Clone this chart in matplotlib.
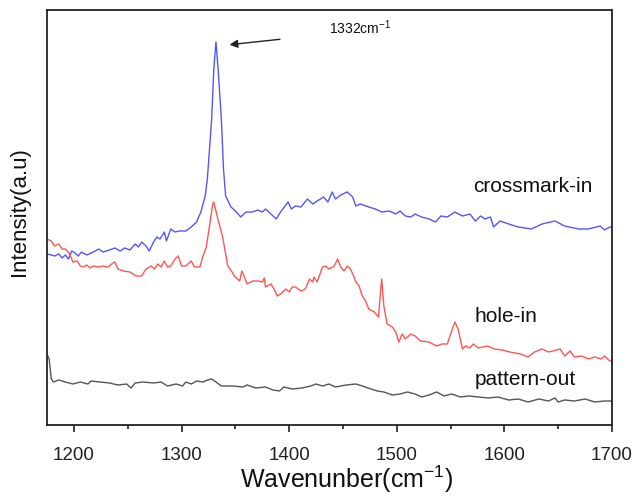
import matplotlib
matplotlib.use("Agg")
import matplotlib.pyplot as plt
from matplotlib.ticker import MultipleLocator

plt.rcParams['font.family'] = ['Liberation Sans', 'DejaVu Sans']
plt.rcParams['mathtext.fontset'] = 'custom'
plt.rcParams['mathtext.rm'] = 'Liberation Sans'
plt.rcParams['mathtext.it'] = 'Liberation Sans:italic'
plt.rcParams['mathtext.bf'] = 'Liberation Sans:bold'

# Wavenumbers (cm^-1) and intensities (a.u.)
blue_x = [1175, 1179, 1182, 1186, 1189, 1192, 1195, 1198, 1201, 1204, 1207, 1212,
          1218, 1223, 1227, 1233, 1238, 1243, 1247, 1252, 1257, 1260, 1263, 1267,
          1270, 1274, 1277, 1280, 1284, 1286, 1290, 1294, 1298, 1304, 1309, 1314,
          1318, 1322, 1324, 1328, 1330, 1332, 1334, 1337, 1339, 1341, 1346, 1351,
          1355, 1360, 1366, 1371, 1375, 1378, 1383, 1388, 1392, 1399, 1402, 1406,
          1411, 1417, 1422, 1426, 1432, 1436, 1440, 1443, 1448, 1454, 1459, 1462,
          1466, 1474, 1480, 1486, 1493, 1499, 1503, 1508, 1513, 1517, 1523, 1530,
          1536, 1541, 1547, 1554, 1561, 1568, 1573, 1578, 1582, 1587, 1590, 1596,
          1604, 1613, 1625, 1635, 1647, 1656, 1669, 1678, 1689, 1693, 1698, 1700]
blue_y = [171, 170, 169, 171, 167, 170, 166, 174, 172, 169, 173, 170,
          173, 176, 173, 175, 177, 174, 177, 175, 181, 178, 183, 179,
          174, 183, 188, 186, 193, 184, 196, 193, 194, 194, 198, 203,
          213, 229, 246, 306, 356, 383, 356, 306, 256, 229, 218, 213,
          208, 213, 213, 215, 213, 216, 211, 206, 213, 223, 216, 219,
          218, 226, 221, 224, 228, 223, 233, 226, 230, 233, 228, 219,
          221, 218, 216, 213, 214, 211, 214, 209, 208, 211, 208, 206,
          203, 209, 208, 213, 209, 211, 204, 209, 206, 208, 198, 204,
          201, 198, 196, 201, 204, 199, 196, 196, 199, 195, 198, 198]

red_x = [1175, 1179, 1182, 1186, 1189, 1192, 1195, 1198, 1199, 1203, 1206, 1209,
         1212, 1215, 1218, 1223, 1227, 1232, 1235, 1238, 1241, 1246, 1252, 1258,
         1263, 1267, 1272, 1275, 1278, 1281, 1284, 1287, 1290, 1294, 1297, 1300,
         1304, 1309, 1312, 1317, 1320, 1323, 1326, 1329, 1330, 1334, 1338, 1343,
         1347, 1349, 1354, 1356, 1358, 1361, 1366, 1371, 1375, 1377, 1378, 1383,
         1386, 1389, 1392, 1397, 1400, 1403, 1406, 1411, 1415, 1419, 1422, 1423,
         1426, 1431, 1434, 1437, 1442, 1445, 1448, 1451, 1454, 1457, 1460, 1462,
         1465, 1468, 1471, 1474, 1479, 1483, 1486, 1488, 1491, 1496, 1499, 1502,
         1505, 1508, 1513, 1517, 1522, 1530, 1537, 1542, 1547, 1551, 1554, 1557,
         1561, 1564, 1568, 1571, 1576, 1584, 1591, 1598, 1605, 1615, 1622, 1628,
         1635, 1641, 1645, 1652, 1656, 1661, 1665, 1672, 1678, 1684, 1690, 1693,
         1698, 1700]
red_y = [186, 184, 179, 181, 176, 176, 173, 166, 163, 164, 159, 158,
         160, 157, 159, 158, 159, 158, 161, 163, 156, 154, 153, 149,
         149, 156, 159, 156, 161, 158, 164, 158, 159, 166, 169, 159,
         159, 164, 158, 158, 169, 178, 199, 221, 223, 205, 189, 159,
         153, 149, 144, 154, 149, 141, 144, 144, 143, 147, 138, 141,
         136, 129, 131, 136, 133, 138, 138, 134, 136, 146, 143, 148,
         143, 158, 159, 156, 159, 166, 158, 154, 159, 156, 149, 143,
         139, 129, 124, 116, 113, 108, 146, 119, 101, 98, 93, 83,
         91, 86, 91, 89, 84, 83, 79, 81, 81, 94, 103, 96,
         76, 79, 77, 81, 77, 79, 76, 75, 73, 71, 68, 73,
         76, 73, 74, 76, 69, 74, 68, 69, 66, 68, 66, 69,
         64, 64]

gray_x = [1175, 1177, 1179, 1181, 1186, 1192, 1199, 1206, 1213, 1216, 1224, 1233,
          1241, 1249, 1253, 1257, 1264, 1274, 1281, 1287, 1295, 1301, 1304, 1309,
          1314, 1320, 1324, 1328, 1332, 1337, 1348, 1357, 1361, 1369, 1378, 1385,
          1391, 1395, 1403, 1412, 1420, 1425, 1431, 1437, 1443, 1453, 1462, 1468,
          1476, 1482, 1488, 1496, 1503, 1510, 1517, 1523, 1530, 1537, 1544, 1551,
          1559, 1567, 1576, 1585, 1594, 1604, 1613, 1622, 1632, 1641, 1647, 1650,
          1656, 1665, 1675, 1684, 1693, 1700]
gray_y = [71, 66, 46, 43, 45, 43, 41, 43, 41, 44, 43, 42,
          40, 41, 37, 42, 43, 42, 43, 39, 41, 39, 43, 41,
          44, 43, 45, 46, 43, 39, 39, 38, 40, 37, 38, 35,
          34, 38, 36, 37, 39, 41, 39, 41, 38, 40, 41, 39,
          36, 34, 33, 30, 31, 33, 31, 28, 30, 33, 29, 31,
          28, 29, 28, 27, 28, 25, 26, 23, 26, 24, 27, 23,
          25, 24, 26, 23, 24, 24]

fig = plt.figure(figsize=(6.34, 5.02), dpi=100)
ax = fig.add_axes([47/634, 1 - 426/502, (612-47)/634, (426-11)/502])

ax.plot(blue_x, blue_y, color='#5555ff', lw=1.0)
ax.plot(red_x, red_y, color='#ff5555', lw=1.0)
ax.plot(gray_x, gray_y, color='#555555', lw=1.0)

ax.set_xlim(1175, 1700)
ax.set_ylim(0, 415)
ax.set_yticks([])
ax.xaxis.set_major_locator(MultipleLocator(100))
ax.xaxis.set_minor_locator(MultipleLocator(50))
ax.tick_params(axis='x', which='major', direction='out', length=5, width=1.2,
               labelsize=13.5, pad=10, colors='#222222')
ax.tick_params(axis='x', which='minor', direction='out', length=3, width=1.2,
               colors='#222222')
for s in ax.spines.values():
    s.set_linewidth(1.3)
    s.set_color('#222222')

fig.text(347/634, 1 - 488/502, 'Wavenunber(cm$^{-1}$)', fontsize=18,
         ha='center', va='baseline', color='#111111')
fig.text(20/634, 1 - 212/502, 'Intensity(a.u)', fontsize=16, rotation=90,
         ha='center', va='center', color='#111111')

ax.text(1571, 234, 'crossmark-in', fontsize=15, color='#111111')
ax.text(1572, 104, 'hole-in', fontsize=15, color='#111111')
ax.text(1572, 41, 'pattern-out', fontsize=15, color='#111111')
ax.annotate('', xy=(1342, 380), xytext=(1394, 386),
            arrowprops=dict(arrowstyle='-|>', color='#222222', lw=1.0,
                            mutation_scale=12))
ax.text(1437, 392, '1332cm$^{-1}$', fontsize=10, color='#111111')

fig.savefig('out.png', dpi=100)
